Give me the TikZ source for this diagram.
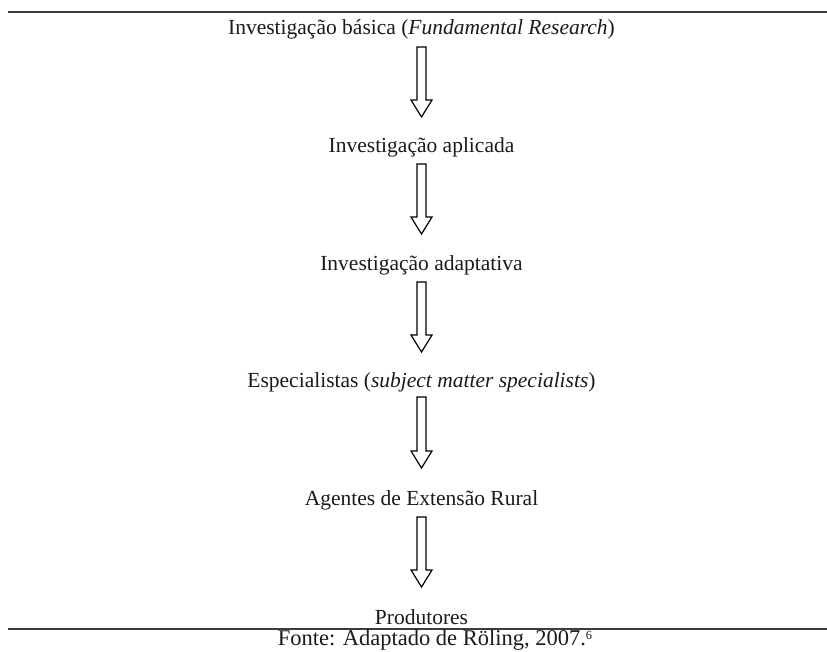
\documentclass[tikz,border=0pt]{standalone}
\usepackage{fontspec}
\setmainfont{Liberation Serif}
\usetikzlibrary{calc}
\definecolor{ink}{HTML}{1A1A1A}
\tikzset{
  x=1pt,y=1pt,
  stage/.style={font=\fontsize{21.5}{25}\selectfont,text=ink,anchor=base,inner sep=0pt},
  source/.style={font=\fontsize{22.5}{26}\selectfont,text=ink,anchor=base,inner sep=0pt},
  rule/.style={draw=ink!85,line width=1.3pt},
  hollow/.style={draw=black,line width=1.2pt,fill=white,line join=miter}
}
% hollow block arrow from #1 (top) to #2 (tip)
\newcommand{\hollowdown}[2]{%
  \draw[hollow] ($(#1)+(-4.5,0)$) -- ($(#2)+(-4.5,17)$) -- ($(#2)+(-10.5,17)$) -- (#2)
    -- ($(#2)+(10.5,17)$) -- ($(#2)+(4.5,17)$) -- ($(#1)+(4.5,0)$) -- cycle;}
\begin{document}
\begin{tikzpicture}
  \useasboundingbox (0,0) rectangle (827,-651);
  \draw[rule] (8,-12) -- (827,-12);
  \draw[rule] (8,-629) -- (827,-629);
  \node[stage] (basica) at (421.5,-34) {Investigação básica (\textit{Fundamental Research})};
  \node[stage] (aplicada) at (421.5,-152) {Investigação aplicada};
  \node[stage] (adaptativa) at (421.5,-270) {Investigação adaptativa};
  \node[stage] (especial) at (421.5,-387) {Especialistas (\textit{subject matter specialists})};
  \node[stage] (agentes) at (421.5,-505) {Agentes de Extensão Rural};
  \node[stage] (produtores) at (421.5,-624) {Produtores};
  \node[source] (fonte) at (435,-645.5) {Fonte: Adaptado de Röling, 2007.{\fontsize{12.5}{13}\selectfont\raisebox{1.1ex}{6}}};
  \foreach \a/\top/\tip in {1/47/117,2/164/234,3/282/352,4/397/468,5/517/587}{
    \coordinate (s\a) at (421.5,-\top);
    \coordinate (e\a) at (421.5,-\tip);
    \hollowdown{s\a}{e\a}
  }
\end{tikzpicture}
\end{document}
